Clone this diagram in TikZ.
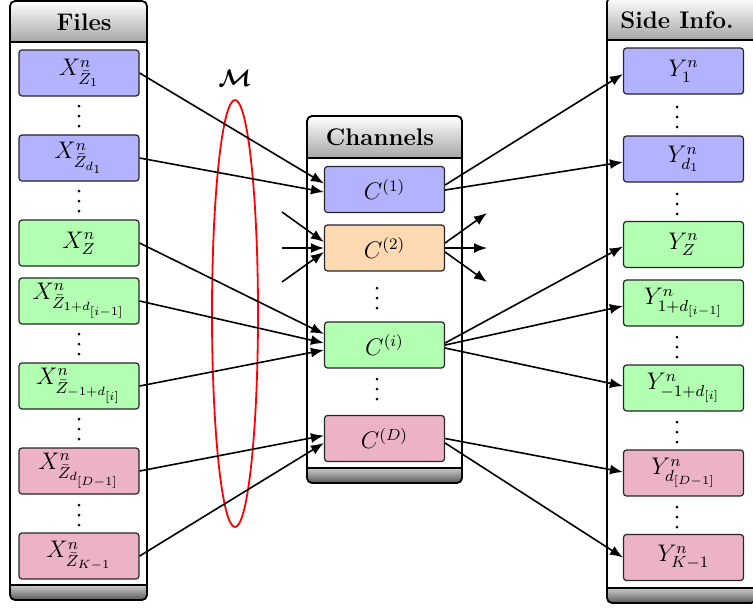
\documentclass[tikz,border=0pt]{standalone}
\usepackage{amsmath}
\usetikzlibrary{arrows.meta,calc}
\begin{document}
\begin{tikzpicture}[x=0.5pt,y=-0.5pt,
  box/.style={draw=black!85, line width=0.6pt, rounded corners=1.5pt, minimum width=60pt, minimum height=23pt, inner sep=0pt, font=\large},
  bb/.style={box, fill=blue!30},
  gb/.style={box, fill=green!30},
  ob/.style={box, fill=orange!30},
  pb/.style={box, fill=purple!30},
  conn/.style={-{Latex[length=6.5pt,width=5pt]}, line width=0.8pt},
  panel/.style={line width=0.9pt, rounded corners=2.5pt},
  head/.style={font=\large\bfseries, inner sep=0pt},
]
\useasboundingbox (0,0) rectangle (753,607);
\newcommand\vdts[2]{\fill (#1,#2-10) circle (0.75pt) (#1,#2) circle (0.75pt) (#1,#2+10) circle (0.75pt);}
\newcommand\mypanel[5]{%
  \begin{scope}
  \clip[rounded corners=2.5pt] (#1,#2) rectangle (#3,#4);
  \shade[top color=white, bottom color=black!35] (#1,#2) rectangle (#3,#5);
  \shade[top color=black!20, bottom color=black!65] (#1,#4-15) rectangle (#3,#4);
  \end{scope}
  \draw[panel] (#1,#2) rectangle (#3,#4);
  \draw[line width=0.9pt] (#1,#5) -- (#3,#5) (#1,#4-15) -- (#3,#4-15);}

% panels
\mypanel{10}{1}{147}{600}{42}
\mypanel{307}{116}{462}{483}{158}
\mypanel{607}{-3}{756}{603}{40}

\node[head] (hfiles) at (84,22) {Files};
\node[head] (hchan) at (380,137) {Channels};
\node[head] (hside) at (677,20) {Side Info.};

% left boxes
\node[bb] (x1) at (79,73) {$X^n_{\bar{Z}_1}$};
\node[bb] (x2) at (79,158) {$X^n_{\bar{Z}_{d_1}}$};
\node[gb] (x3) at (79,243) {$X^n_{Z}$};
\node[gb] (x4) at (79,301) {$X^n_{\bar{Z}_{1+d_{[i-1]}}}$};
\node[gb] (x5) at (79,386) {$X^n_{\bar{Z}_{-1+d_{[i]}}}$};
\node[pb] (x6) at (79,471) {$X^n_{\bar{Z}_{d_{[D-1]}}}$};
\node[pb] (x7) at (79,556) {$X^n_{\bar{Z}_{K-1}}$};

% right boxes
\node[bb] (y1) at (683.5,71) {$Y^n_{1}$};
\node[bb] (y2) at (683.5,159) {$Y^n_{d_1}$};
\node[gb] (y3) at (683.5,244.5) {$Y^n_{Z}$};
\node[gb] (y4) at (683.5,303) {$Y^n_{1+d_{[i-1]}}$};
\node[gb] (y5) at (683.5,388) {$Y^n_{-1+d_{[i]}}$};
\node[pb] (y6) at (683.5,473) {$Y^n_{d_{[D-1]}}$};
\node[pb] (y7) at (683.5,557.5) {$Y^n_{K-1}$};

% channels
\node[bb] (c1) at (384.5,189.5) {$C^{(1)}$};
\node[ob] (c2) at (384.5,248) {$C^{(2)}$};
\node[gb] (ci) at (384.5,345) {$C^{(i)}$};
\node[pb] (cd) at (384.5,438.5) {$C^{(D)}$};

% dots
\vdts{79}{116}
\vdts{79}{201}
\vdts{79}{344}
\vdts{79}{429}
\vdts{79}{515}
\vdts{677}{117}
\vdts{677}{204}
\vdts{677}{347}
\vdts{677}{432}
\vdts{677}{517}
\vdts{377}{298}
\vdts{377}{389}

% ellipse M
\draw[red, line width=0.9pt] (235,313.5) ellipse [x radius=23, y radius=213.5];
\node[font=\large] (mlab) at (235,78) {$\boldsymbol{\mathcal{M}}$};

% left to channels
\draw[conn] (x1.east) -- ($(c1.west)+(0,-6)$);
\draw[conn] (x2.east) -- ($(c1.west)+(0,2.5)$);
\draw[conn] (x3.east) -- ($(ci.west)+(0,-11)$);
\draw[conn] (x4.east) -- ($(ci.west)+(0,-2)$);
\draw[conn] (x5.east) -- ($(ci.west)+(0,5)$);
\draw[conn] (x6.east) -- ($(cd.west)+(0,-3)$);
\draw[conn] (x7.east) -- ($(cd.west)+(0,4.5)$);

% C2 stubs
\coordinate (i1) at (282,212);
\coordinate (i2) at (282,248);
\coordinate (i3) at (282,282);
\coordinate (o1) at (487,213);
\coordinate (o2) at (487,248);
\coordinate (o3) at (487,282);
\draw[conn] (i1) -- ($(c2.west)+(0,-6)$);
\draw[conn] (i2) -- (c2.west);
\draw[conn] (i3) -- ($(c2.west)+(0,4)$);
\draw[conn] ($(c2.east)+(0,-5)$) -- (o1);
\draw[conn] (c2.east) -- (o2);
\draw[conn] ($(c2.east)+(0,4)$) -- (o3);

% channels to right
\draw[conn] ($(c1.east)+(0,-4.5)$) -- ($(y1.west)+(0,3)$);
\draw[conn] ($(c1.east)+(0,0.5)$) -- ($(y2.west)+(0,3)$);
\draw[conn] ($(ci.east)+(0,-2)$) -- ($(y3.west)+(0,2)$);
\draw[conn] (ci.east) -- ($(y4.west)+(0,3)$);
\draw[conn] ($(ci.east)+(0,3)$) -- ($(y5.west)+(0,-2)$);
\draw[conn] (cd.east) -- ($(y6.west)+(0,-1)$);
\draw[conn] ($(cd.east)+(0,4.5)$) -- (y7.west);
\end{tikzpicture}
\end{document}
